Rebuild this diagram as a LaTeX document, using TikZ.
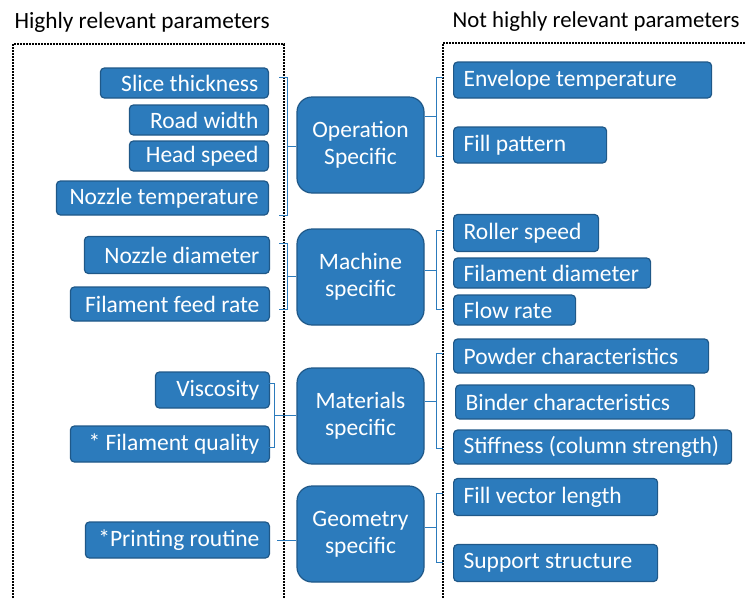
\documentclass[tikz,border=0pt]{standalone}
\usepackage{fontspec}
\setmainfont{Carlito}
\usepackage{tikz}
\usepackage{xcolor}
\usetikzlibrary{calc}

\definecolor{boxblue}{HTML}{2C7BBC}
\definecolor{boxedge}{HTML}{1F5888}

\tikzset{
  par/.style={draw=boxedge, line width=1.2pt, fill=boxblue, rounded corners=4pt,
    text=white, font=\fontsize{23.5}{26}\selectfont, minimum height=34pt,
    inner xsep=10pt, inner ysep=0pt},
  lpar/.style={par, anchor=east, align=flush right},
  rpar/.style={par, anchor=west, align=flush left},
  group/.style={draw=boxedge, line width=1.2pt, fill=boxblue, rounded corners=15pt,
    text=white, font=\fontsize{23.5}{27}\selectfont, minimum width=127pt,
    minimum height=96pt, align=center},
  brk/.style={draw=boxblue, line width=0.9pt},
  dotframe/.style={line width=1.9pt, dash pattern=on 1.9pt off 1.1pt},
  heading/.style={anchor=west, font=\fontsize{23.3}{26}\selectfont}
}

\begin{document}
\begin{tikzpicture}[x=1pt, y=-1pt]
\useasboundingbox (0,0) rectangle (745,598);

% Headings and dotted frames
\node[heading] (hi) at (11,22) {Highly relevant parameters};
\node[heading, font=\fontsize{22.8}{26}\selectfont] (lo) at (449,22) {Not highly relevant parameters};
\draw[dotframe] (13,610) -- (13,44) -- (284,44) -- (284,610);
\draw[dotframe] (760,43) -- (443,43) -- (443,610);

% Groups (middle column)
\node[group] (oper) at (360.5,145) {Operation\\Specific};
\node[group] (mach) at (360.5,277) {Machine\\specific};
\node[group] (mate) at (360.5,416) {Materials\\specific};
\node[group] (geom) at (360.5,534) {Geometry\\specific};

% Highly relevant (left column)
\node[lpar, minimum height=30pt, text width=148pt] (slice) at (269,83) {Slice thickness};
\node[lpar, minimum height=30pt, text width=119pt] (road) at (269,120) {Road width};
\node[lpar, minimum height=30pt, text width=119pt] (head) at (269,156) {Head speed};
\node[lpar, text width=192pt] (ntemp) at (269,198) {Nozzle temperature};
\node[lpar, minimum height=37pt, text width=165pt] (ndiam) at (270,255) {Nozzle diameter};
\node[lpar, text width=179pt] (feed) at (270,304) {Filament feed rate};
\node[lpar, minimum height=36pt, text width=94pt] (visc) at (270,390) {Viscosity};
\node[lpar, minimum height=36pt, text width=179pt] (qual) at (270,444) {* Filament quality};
\node[lpar, minimum height=36pt, text width=164pt] (print) at (270,540) {*Printing routine};

% Not highly relevant (right column)
\node[rpar, minimum height=36pt, text width=238pt] (env) at (453,80) {Envelope temperature};
\node[rpar, minimum height=36pt, text width=133pt] (fill) at (453,145) {Fill pattern};
\node[rpar, minimum height=37pt, text width=125pt] (roll) at (453,233) {Roller speed};
\node[rpar, minimum height=30pt, text width=177pt] (fdiam) at (453,273) {Filament diameter};
\node[rpar, minimum height=30pt, text width=102pt] (flow) at (453,310) {Flow rate};
\node[rpar, text width=235pt] (powd) at (453,356) {Powder characteristics};
\node[rpar, text width=219pt] (bind) at (455,402) {Binder characteristics};
\node[rpar, text width=258pt] (stif) at (453,447) {Stiffness (column strength)};
\node[rpar, minimum height=37pt, text width=184pt] (vect) at (453,497) {Fill vector length};
\node[rpar, minimum height=37pt, text width=184pt] (supp) at (453,563) {Support structure};

% Brackets on the left of each group
\foreach \x/\yt/\yb/\ym/\g in {287/77/215/146/oper, 287/243/309/276/mach, 274/383/447/415/mate}{
  \draw[brk] (\x-8,\yt) -- (\x,\yt) -- (\x,\yb) -- (\x-8,\yb);
  \draw[brk] (\x,\ym) -- (\g.west |- 0,\ym);
}
\draw[brk] ([xshift=7pt]print.east) -- (geom.west |- print.east);

% Brackets on the right of each group
\foreach \yt/\yb/\ym/\g in {77/156/116/oper, 230/309/270/mach, 353/448/401/mate, 493/562/527/geom}{
  \draw[brk] (443,\yt) -- (436,\yt) -- (436,\yb) -- (443,\yb);
  \draw[brk] (\g.east |- 0,\ym) -- (436,\ym);
}
\end{tikzpicture}
\end{document}
